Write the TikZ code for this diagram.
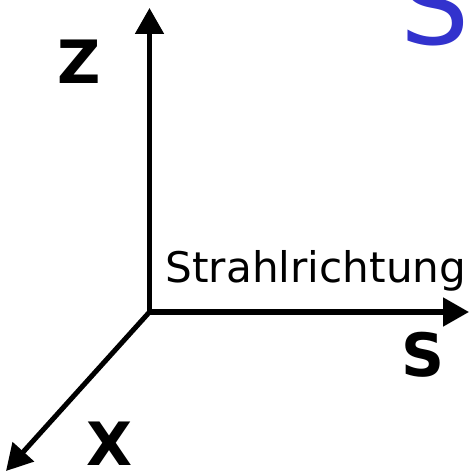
\documentclass[tikz,border=0pt]{standalone}
\usepackage{fontspec}
\setmainfont{DejaVu Sans}
\usetikzlibrary{arrows.meta,positioning}
\definecolor{TitleBlue}{RGB}{50,50,205}

\begin{document}
\begin{tikzpicture}[x=0.02cm,y=-0.02cm,>={Triangle[length=0.52cm,width=0.56cm]},
  axis/.style={line width=2.85pt,->},
  axislabel/.style={font=\bfseries\fontsize{34}{34}\selectfont,inner sep=0pt,anchor=base}]
  \useasboundingbox (0,0) rectangle (468,475);
  % axes
  \coordinate (O) at (149.5,312);
  \coordinate (zend) at (149.5,8);
  \coordinate (send) at (469,312);
  \coordinate (xend) at (6,471);
  \draw[axis] (O) -- (zend);
  \draw[axis] (O) -- (send);
  \draw[axis] (O) -- (xend);
  % labels
  \node[axislabel] (zlab) at (79,84) {Z};
  \node[axislabel] (slab) at (423,376) {S};
  \node[axislabel] (xlab) at (110,465) {X};
  \node[font=\fontsize{24}{24}\selectfont,inner sep=0pt,anchor=base] (beam) at (316,282) {Strahlrichtung};
  \node[TitleBlue,font=\fontsize{62}{62}\selectfont,inner sep=0pt,anchor=base] (title) at (435,45) {S};
\end{tikzpicture}
\end{document}
